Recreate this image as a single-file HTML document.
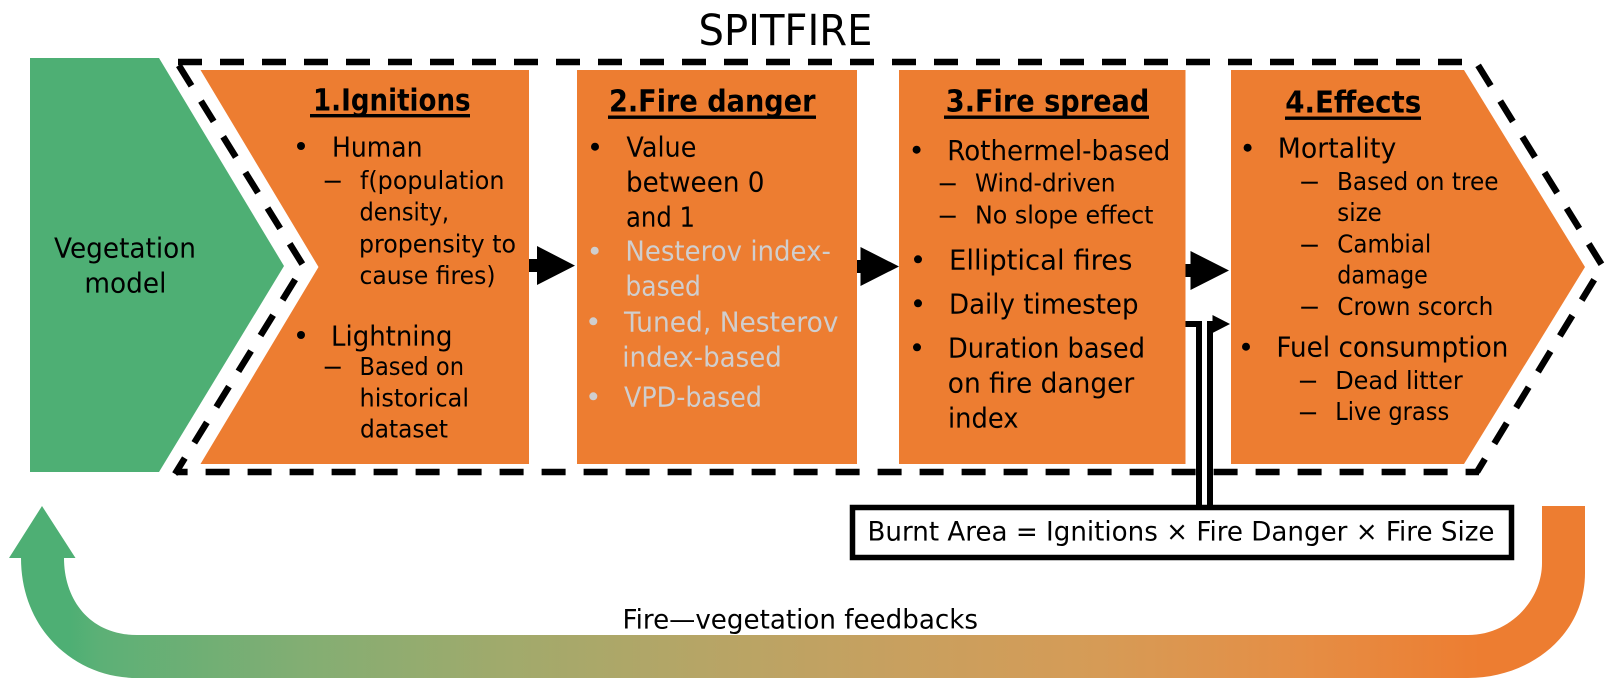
<!DOCTYPE html>
<html><head><meta charset="utf-8"><title>SPITFIRE</title>
<style>
html,body{margin:0;padding:0;background:#fff;width:1612px;height:692px;overflow:hidden}
svg{display:block}
text{font-family:"DejaVu Sans","Liberation Sans",sans-serif;fill:#000;font-size:27.5px}
.s{font-size:25px}
.h{font-size:30.5px;font-weight:bold}
.g{fill:#D0CECE}
</style></head><body>
<svg xmlns="http://www.w3.org/2000/svg" width="1612" height="692" viewBox="0 0 1612 692">
<defs><linearGradient id="gr" gradientUnits="userSpaceOnUse" x1="70" y1="0" x2="1480" y2="0">
<stop offset="0" stop-color="#4EAF74"/>
<stop offset="0.021" stop-color="#5CB076"/>
<stop offset="0.163" stop-color="#82AE73"/>
<stop offset="0.305" stop-color="#A0AA6C"/>
<stop offset="0.447" stop-color="#B6A566"/>
<stop offset="0.589" stop-color="#C8A05F"/>
<stop offset="0.731" stop-color="#D69B56"/>
<stop offset="0.872" stop-color="#E58E45"/>
<stop offset="1" stop-color="#ED7D31"/>
</linearGradient></defs>

<polygon points="30,58 159,58 284,266 159,472 30,472" fill="#4EAF74"/>
<!-- dashed outline -->
<path d="M178,62 H1476 L1602.5,266 L1477,472" fill="none" stroke="#000" stroke-width="6.5" stroke-dasharray="24 18"/>
<path d="M1479,472 H176" fill="none" stroke="#000" stroke-width="6.5" stroke-dasharray="24 18" stroke-dashoffset="10.6"/>
<path d="M176.7,62 L303.5,266 L175,474" fill="none" stroke="#000" stroke-width="6.5" stroke-dasharray="24 18" stroke-dashoffset="-4"/>

<polygon points="200.5,70 529,70 529,464 200.5,464 318.5,267" fill="#ED7D31"/>
<rect x="577" y="70" width="280" height="394" fill="#ED7D31"/>
<rect x="899" y="70" width="286.5" height="394" fill="#ED7D31"/>
<polygon points="1231,70 1464,70 1585,267 1464,464 1231,464" fill="#ED7D31"/>

<!-- block arrows -->
<polygon points="529,259 537,259 537,246 575,265.6 537,285 537,272 529,272" fill="#000"/>
<polygon points="857,260 860.5,260 860.5,247 899,266.5 860.5,286 860.5,273 857,273" fill="#000"/>
<polygon points="1185.5,264 1190.5,264 1190.5,251 1229,270.5 1190.5,290 1190.5,277 1185.5,277" fill="#000"/>

<!-- elbows -->
<path d="M1185.5,324 H1199 V506" fill="none" stroke="#000" stroke-width="6"/>
<path d="M1210,506 V324 H1214" fill="none" stroke="#000" stroke-width="6"/>
<polygon points="1212.5,315 1230,324 1212.5,333" fill="#000"/>

<!-- formula box -->
<rect x="852.5" y="507.5" width="659" height="50" fill="#fff" stroke="#000" stroke-width="5.5"/>
<text x="867.5" y="540.7" textLength="627" lengthAdjust="spacingAndGlyphs" style="font-size:26.5px">Burnt Area = Ignitions × Fire Danger × Fire Size</text>

<!-- feedback arrow -->
<path d="M1585,506 V573 C1585,635 1530,678 1468,678 H137 C75,678 21,630 21,558 H9 L42,506 L75.5,558 H64 C64,600 90,635 137,635 H1468 C1510,635 1542,600 1542,563 V506 Z" fill="url(#gr)"/>
<text x="622.5" y="628.3" textLength="355.5" lengthAdjust="spacingAndGlyphs" style="font-size:26.5px">Fire—vegetation feedbacks</text>

<text x="698.5" y="45" textLength="174" lengthAdjust="spacingAndGlyphs" style="font-size:42.5px">SPITFIRE</text>

<text x="54" y="257.7" textLength="142" lengthAdjust="spacingAndGlyphs">Vegetation</text>
<text x="84.4" y="292.7" textLength="82" lengthAdjust="spacingAndGlyphs">model</text>

<!-- Box 1 -->
<text class="h" x="313" y="110.7" textLength="157.6" lengthAdjust="spacingAndGlyphs">1.Ignitions</text>
<rect x="310" y="114" width="160" height="3.4"/>
<circle cx="301" cy="146" r="4"/>
<text x="332" y="156.7" textLength="90.5" lengthAdjust="spacingAndGlyphs">Human</text>
<rect x="324.7" y="180.7" width="16" height="2"/>
<text class="s" x="360" y="189" textLength="144.5" lengthAdjust="spacingAndGlyphs">f(population</text>
<text class="s" x="359.5" y="220.7" textLength="89.5" lengthAdjust="spacingAndGlyphs">density,</text>
<text class="s" x="359" y="252.3" textLength="157" lengthAdjust="spacingAndGlyphs">propensity to</text>
<text class="s" x="359.5" y="284" textLength="136" lengthAdjust="spacingAndGlyphs">cause fires)</text>
<circle cx="301" cy="335" r="4"/>
<text x="331" y="345.7" textLength="121.5" lengthAdjust="spacingAndGlyphs">Lightning</text>
<rect x="324.7" y="366.7" width="16" height="2"/>
<text class="s" x="359.5" y="375" textLength="104.5" lengthAdjust="spacingAndGlyphs">Based on</text>
<text class="s" x="359.5" y="406.7" textLength="109.5" lengthAdjust="spacingAndGlyphs">historical</text>
<text class="s" x="360" y="437.7" textLength="88" lengthAdjust="spacingAndGlyphs">dataset</text>

<!-- Box 2 -->
<text class="h" x="609" y="111.7" textLength="206.5" lengthAdjust="spacingAndGlyphs">2.Fire danger</text>
<rect x="608" y="115.5" width="208" height="3.4"/>
<circle cx="595" cy="146.7" r="4"/>
<text x="626.4" y="156.7" textLength="70" lengthAdjust="spacingAndGlyphs">Value</text>
<text x="626" y="191.7" textLength="138.5" lengthAdjust="spacingAndGlyphs">between 0</text>
<text x="626" y="226.7" textLength="69" lengthAdjust="spacingAndGlyphs">and 1</text>
<circle cx="594.7" cy="250.7" r="4" fill="#D0CECE"/>
<text class="g" x="625.4" y="260.7" textLength="205.5" lengthAdjust="spacingAndGlyphs">Nesterov index-</text>
<text class="g" x="625.4" y="295.3" textLength="75.5" lengthAdjust="spacingAndGlyphs">based</text>
<circle cx="593.3" cy="321.3" r="4" fill="#D0CECE"/>
<text class="g" x="624" y="331.3" textLength="214.5" lengthAdjust="spacingAndGlyphs">Tuned, Nesterov</text>
<text class="g" x="622.3" y="366.7" textLength="159.5" lengthAdjust="spacingAndGlyphs">index-based</text>
<circle cx="593.3" cy="396.3" r="4" fill="#D0CECE"/>
<text class="g" x="624" y="406.7" textLength="138" lengthAdjust="spacingAndGlyphs">VPD-based</text>

<!-- Box 3 -->
<text class="h" x="945.8" y="111.7" textLength="203.5" lengthAdjust="spacingAndGlyphs">3.Fire spread</text>
<rect x="944" y="115.5" width="205" height="3.4"/>
<circle cx="916.6" cy="149.7" r="4"/>
<text x="947.3" y="160" textLength="223" lengthAdjust="spacingAndGlyphs">Rothermel-based</text>
<rect x="939.7" y="183.3" width="16" height="2"/>
<text class="s" x="975" y="191.7" textLength="140.5" lengthAdjust="spacingAndGlyphs">Wind-driven</text>
<rect x="939.7" y="215.7" width="16" height="2"/>
<text class="s" x="975" y="223.3" textLength="178.5" lengthAdjust="spacingAndGlyphs">No slope effect</text>
<circle cx="918" cy="259.3" r="4"/>
<text x="949" y="269.3" textLength="183.5" lengthAdjust="spacingAndGlyphs">Elliptical fires</text>
<circle cx="918" cy="303.3" r="4"/>
<text x="949" y="313.3" textLength="189.5" lengthAdjust="spacingAndGlyphs">Daily timestep</text>
<circle cx="917" cy="347.3" r="4"/>
<text x="948" y="357.3" textLength="197" lengthAdjust="spacingAndGlyphs">Duration based</text>
<text x="947.8" y="392.7" textLength="186.5" lengthAdjust="spacingAndGlyphs">on fire danger</text>
<text x="948" y="427.7" textLength="70.5" lengthAdjust="spacingAndGlyphs">index</text>

<!-- Box 4 -->
<text class="h" x="1285.2" y="112.3" textLength="136" lengthAdjust="spacingAndGlyphs">4.Effects</text>
<rect x="1285" y="116.5" width="136" height="3.4"/>
<circle cx="1247.6" cy="147.7" r="4"/>
<text x="1277.8" y="157.3" textLength="118.5" lengthAdjust="spacingAndGlyphs">Mortality</text>
<rect x="1301.2" y="181.7" width="16.6" height="2"/>
<text class="s" x="1337" y="190" textLength="161.5" lengthAdjust="spacingAndGlyphs">Based on tree</text>
<text class="s" x="1337.3" y="221" textLength="44.5" lengthAdjust="spacingAndGlyphs">size</text>
<rect x="1301.2" y="244.7" width="16.6" height="2"/>
<text class="s" x="1337.3" y="252.7" textLength="94" lengthAdjust="spacingAndGlyphs">Cambial</text>
<text class="s" x="1337.3" y="283.3" textLength="90.5" lengthAdjust="spacingAndGlyphs">damage</text>
<rect x="1301.2" y="306.7" width="16.6" height="2"/>
<text class="s" x="1337.3" y="315" textLength="156" lengthAdjust="spacingAndGlyphs">Crown scorch</text>
<circle cx="1246" cy="346.7" r="4"/>
<text x="1276.4" y="356.7" textLength="232" lengthAdjust="spacingAndGlyphs">Fuel consumption</text>
<rect x="1299.9" y="380.7" width="16.2" height="2"/>
<text class="s" x="1335.2" y="389" textLength="127.5" lengthAdjust="spacingAndGlyphs">Dead litter</text>
<rect x="1299.9" y="412.3" width="16.2" height="2"/>
<text class="s" x="1335.2" y="420" textLength="114" lengthAdjust="spacingAndGlyphs">Live grass</text>
</svg>
</body></html>
